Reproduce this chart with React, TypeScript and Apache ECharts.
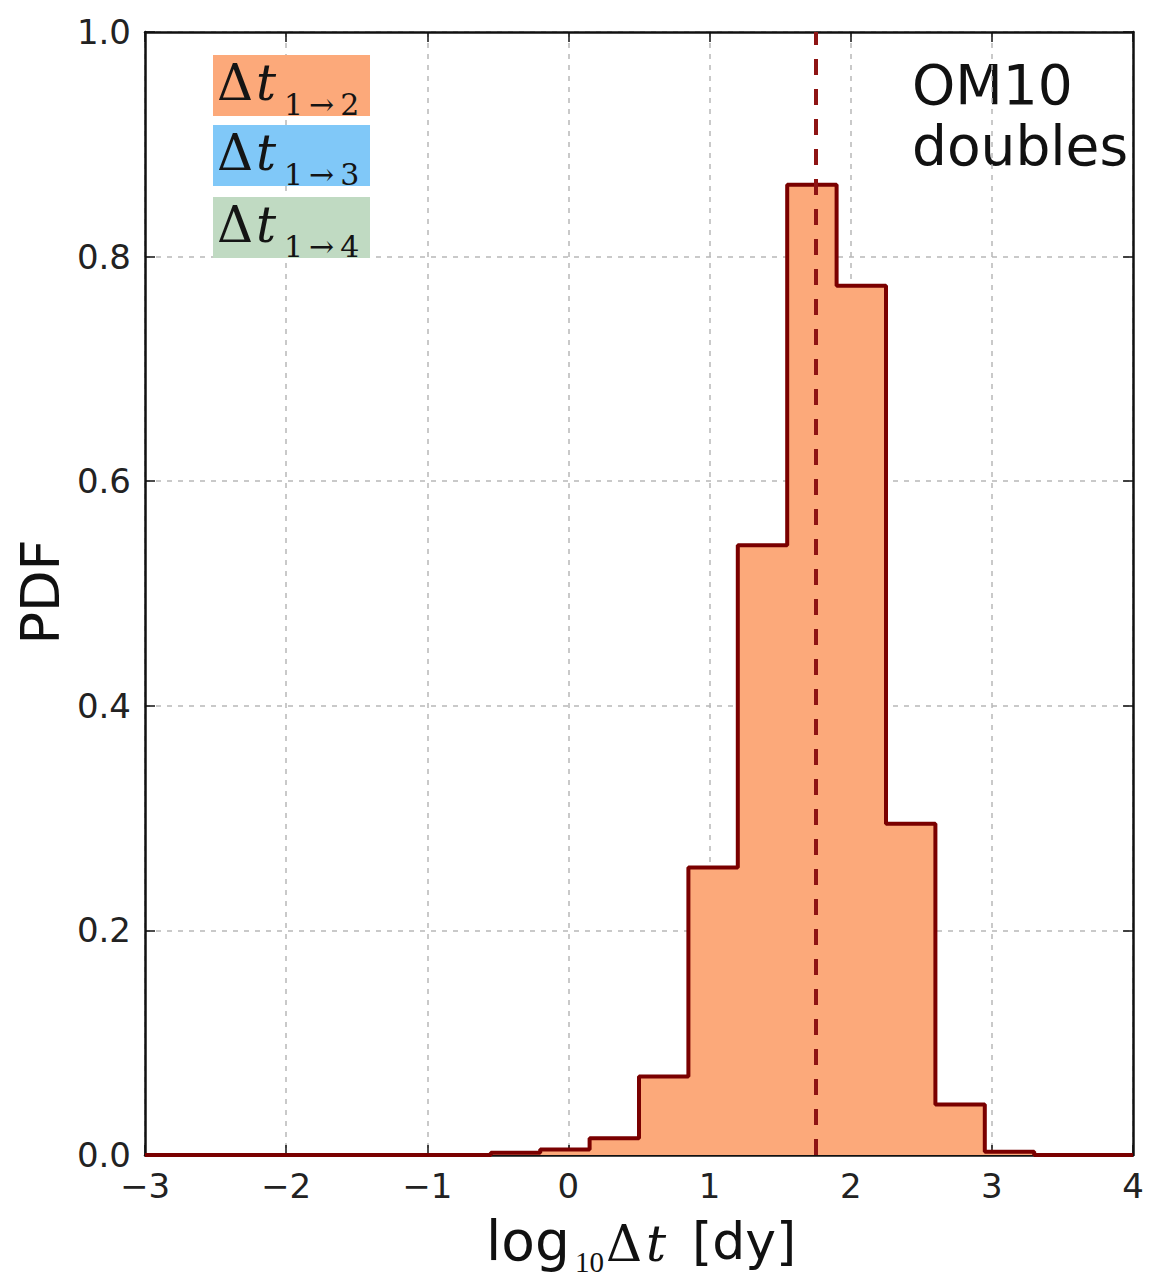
import React, { useEffect, useRef } from "react";
import * as echarts from "echarts";

const binEdges = [-3, -2.65, -2.3, -1.95, -1.6, -1.25, -0.9, -0.55, -0.2, 0.15, 0.5, 0.85, 1.2, 1.55, 1.9, 2.25, 2.6, 2.95, 3.3, 3.65, 4.0];
const pdfValues = [0, 0, 0, 0, 0, 0, 0, 0.002, 0.005, 0.015, 0.07, 0.256, 0.543, 0.864, 0.774, 0.295, 0.045, 0.003, 0, 0];
const medianLog = 1.75;
const legendItems = ["1\u2009\u2192\u20092", "1\u2009\u2192\u20093", "1\u2009\u2192\u20094"];
const legendColors = ["#fca97a", "#80c8f8", "#c0dac2"];

const FILL = "#fca97a";
const EDGE = "#7a0000";
const SANS = "DejaVu Sans";
const SERIF = "DejaVu Serif";
const TIMES = "Liberation Serif";

export default function App() {
  const ref = useRef<HTMLDivElement>(null);
  useEffect(() => {
    document.body.style.margin = "0";
    const chart = echarts.init(ref.current!, null, { renderer: "svg" });
    const fmtX = (v: number) => (v < 0 ? "\u2212" + Math.abs(v) : String(v));
    const histData = binEdges.map((e, i) => [e, i < pdfValues.length ? pdfValues[i] : 0]);
    const gridLine = { show: true, lineStyle: { color: "#b8b8b8", type: [5, 6], width: 1.5 } };
    const axisLine = { show: true, onZero: false, lineStyle: { color: "#111", width: 2.5 } };
    const tick = { show: true, inside: true, length: 10, lineStyle: { color: "#111", width: 1.5 } };

    const graphics: any[] = [];
    legendItems.forEach((sub, i) => {
      const top = [55, 125, 197][i];
      graphics.push({
        type: "rect",
        shape: { x: 213, y: top, width: 157, height: 61 },
        style: { fill: legendColors[i] },
        z: 10,
      });
      graphics.push({
        type: "text",
        x: 217,
        y: top + 53,
        style: { text: "\u0394", font: `50px "${SERIF}"`, fill: "#141414", verticalAlign: "bottom" },
        z: 11,
      });
      graphics.push({
        type: "text",
        x: 256,
        y: top + 53,
        style: { text: "t", font: `italic 50px "${SERIF}"`, fill: "#141414", verticalAlign: "bottom" },
        z: 11,
      });
      graphics.push({
        type: "text",
        x: 284,
        y: top + 64,
        style: { text: sub, font: `30px "${SERIF}"`, fill: "#141414", verticalAlign: "bottom" },
        z: 11,
      });
    });
    graphics.push({
      type: "text",
      x: 912,
      y: 85,
      style: { text: "OM10", font: `55px "${SANS}"`, fill: "#111", verticalAlign: "middle" },
    });
    graphics.push({
      type: "text",
      x: 912,
      y: 146,
      style: { text: "doubles", font: `55px "${SANS}"`, fill: "#111", verticalAlign: "middle" },
    });
    graphics.push({
      type: "text",
      x: 40,
      y: 592,
      rotation: Math.PI / 2,
      style: { text: "PDF", font: `54px "${SANS}"`, fill: "#111", align: "center", verticalAlign: "middle" },
    });
    // x-axis label: log10 Δt [dy]
    graphics.push({ type: "text", x: 486, y: 1241, style: { text: "log", font: `55px "${SANS}"`, fill: "#111", verticalAlign: "middle" } });
    graphics.push({ type: "text", x: 575, y: 1262, style: { text: "10", font: `29px "${TIMES}"`, fill: "#111", verticalAlign: "middle" } });
    graphics.push({ type: "text", x: 606, y: 1244, style: { text: "\u0394", font: `50px "${SERIF}"`, fill: "#111", verticalAlign: "middle" } });
    graphics.push({ type: "text", x: 646, y: 1244, style: { text: "t", font: `italic 50px "${SERIF}"`, fill: "#111", verticalAlign: "middle" } });
    graphics.push({ type: "text", x: 692, y: 1241, style: { text: "[dy]", font: `52px "${SANS}"`, fill: "#111", verticalAlign: "middle" } });

    chart.setOption({
      animation: false,
      backgroundColor: "#fff",
      grid: { left: 145, top: 32, width: 988, height: 1123 },
      xAxis: [
        {
          type: "value",
          min: -3,
          max: 4,
          interval: 1,
          position: "bottom",
          axisLine,
          axisTick: tick,
          splitLine: gridLine,
          axisLabel: { formatter: fmtX, fontFamily: SANS, fontSize: 34, color: "#222", margin: 14 },
        },
        {
          type: "value",
          min: -3,
          max: 4,
          interval: 1,
          position: "top",
          axisLine,
          axisTick: tick,
          splitLine: { show: false },
          axisLabel: { show: false },
        },
      ],
      yAxis: [
        {
          type: "value",
          min: 0,
          max: 1,
          interval: 0.2,
          position: "left",
          axisLine,
          axisTick: tick,
          splitLine: gridLine,
          axisLabel: { formatter: (v: number) => v.toFixed(1), fontFamily: SANS, fontSize: 34, color: "#222", margin: 14 },
        },
        {
          type: "value",
          min: 0,
          max: 1,
          interval: 0.2,
          position: "right",
          axisLine,
          axisTick: tick,
          splitLine: { show: false },
          axisLabel: { show: false },
        },
      ],
      series: [
        {
          type: "line",
          step: "end",
          data: histData,
          symbol: "none",
          clip: false,
          lineStyle: { color: EDGE, width: 4 },
          areaStyle: { color: FILL, opacity: 1 },
          z: 3,
          markLine: {
            symbol: "none",
            silent: true,
            label: { show: false },
            lineStyle: { color: "#8e1414", width: 4, type: [16, 14] },
            data: [[{ coord: [medianLog, 0] }, { coord: [medianLog, 1] }]],
          },
        },
      ],
      graphic: graphics,
    });
    return () => chart.dispose();
  }, []);
  return <div ref={ref} style={{ width: 1150, height: 1278 }} />;
}
